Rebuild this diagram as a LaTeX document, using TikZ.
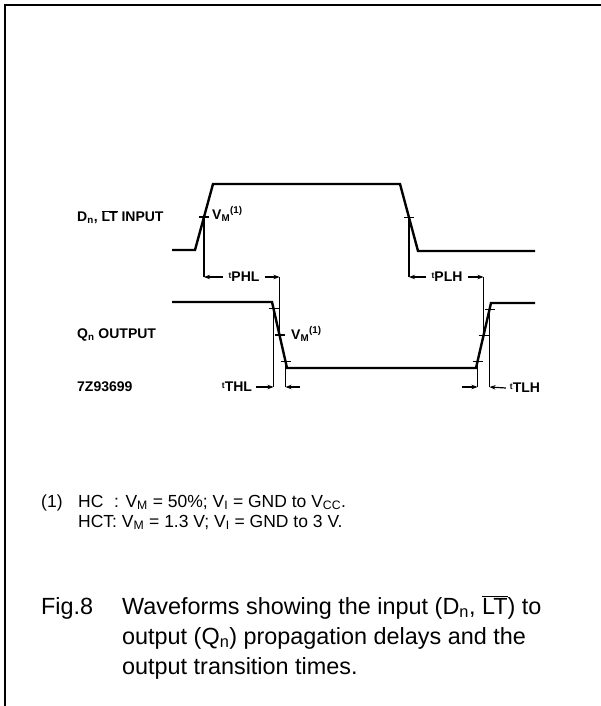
\documentclass[tikz,border=0pt]{standalone}
\usepackage{fontspec}
\setmainfont{Liberation Sans}
\usetikzlibrary{arrows.meta,calc}

\newcommand{\tdel}[1]{\raisebox{3.5pt}{\fontsize{8.5}{8.5}\selectfont t}#1}

\begin{document}
\begin{tikzpicture}[x=1pt,y=-1pt,
    wave/.style={line width=2.4pt,line join=miter},
    guide/.style={line width=1.2pt},
    meas/.style={line width=1.2pt,-{Stealth[length=6pt,width=4.5pt]}},
    sig/.style={font=\bfseries\fontsize{14}{15}\selectfont,inner sep=0pt},
    note/.style={font=\fontsize{17.5}{20}\selectfont,inner sep=0pt,anchor=base west},
    capt/.style={font=\fontsize{23.4}{30}\selectfont,inner sep=0pt,anchor=base west}
]
\useasboundingbox (0,0) rectangle (601,706);
\draw[line width=2pt] (5,706) -- (5,5) -- (601,5);

% input waveform
\coordinate (i0) at (172,250);
\coordinate (i1) at (195,250);
\coordinate (i2) at (213,184);
\coordinate (i3) at (400,184);
\coordinate (i4) at (418,251);
\coordinate (i5) at (535,251);
\draw[wave] (i0) -- (i1) -- (i2) -- (i3) -- (i4) -- (i5);

% output waveform
\coordinate (o0) at (172,302);
\coordinate (o1) at (272,302);
\coordinate (o2) at (287,368);
\coordinate (o3) at (476,368);
\coordinate (o4) at (491,303);
\coordinate (o5) at (535,303);
\draw[wave] (o0) -- (o1) -- (o2) -- (o3) -- (o4) -- (o5);

% measuring points
\coordinate (ir) at ($(i1)!0.5!(i2)$);
\coordinate (if) at ($(i3)!0.5!(i4)$);
\coordinate (of1) at ($(o1)!0.1!(o2)$);
\coordinate (ofm) at ($(o1)!0.5!(o2)$);
\coordinate (of9) at ($(o1)!0.9!(o2)$);
\coordinate (or1) at ($(o3)!0.1!(o4)$);
\coordinate (orm) at ($(o3)!0.5!(o4)$);
\coordinate (or9) at ($(o3)!0.9!(o4)$);
\foreach \p in {ir,if,of1,ofm,of9,or1,orm,or9}
  \draw[guide] ([xshift=-5pt]\p) -- ([xshift=5pt]\p);

\coordinate (tp) at (0,277);
\coordinate (tt) at (0,387);
\draw[guide] (ir) -- (ir |- tp);
\draw[guide] (ofm) -- (ofm |- tp);
\draw[guide] (if) -- (if |- tp);
\draw[guide] (orm) -- (orm |- tp);
\draw[guide] (of1) -- (of1 |- tt);
\draw[guide] (of9) -- (of9 |- tt);
\draw[guide] (or1) -- (or1 |- tt);
\draw[guide] (or9) -- (or9 |- tt);

% labels
\node[sig,anchor=west] (inlab) at (77,217) {D\textsubscript{n}, $\overline{\mbox{LT}}$ INPUT};
\node[sig,anchor=west] (outlab) at (77,335) {Q\textsubscript{n} OUTPUT};
\node[sig,anchor=west] (code) at (77,387) {7Z93699};
\node[sig,anchor=west] (vmin) at (212,214) {V\textsubscript{M}\textsuperscript{(1)}};
\node[sig,anchor=west] (vmout) at (291,334) {V\textsubscript{M}\textsuperscript{(1)}};

\node[sig,inner xsep=5pt] (phl) at (244,277) {\tdel{PHL}};
\draw[meas] (phl.west) -- (ir |- tp);
\draw[meas] (phl.east) -- (ofm |- tp);
\node[sig,inner xsep=5pt] (plh) at (447,277) {\tdel{PLH}};
\draw[meas] (plh.west) -- (if |- tp);
\draw[meas] (plh.east) -- (orm |- tp);

\node[sig,inner xsep=4pt] (thl) at (237,387) {\tdel{THL}};
\draw[meas] (thl.east) -- (of1 |- tt);
\coordinate (thlr) at ($(of9 |- tt)+(14,0)$);
\draw[meas] (thlr) -- (of9 |- tt);
\node[sig,inner xsep=4pt] (tlh) at (525,388) {\tdel{TLH}};
\draw[meas] (tlh.west) -- (or9 |- tt);
\coordinate (tlhl) at ($(or1 |- tt)+(-16,0)$);
\draw[meas] (tlhl) -- (or1 |- tt);

% note and caption
\node[note] (fn) at (41,507) {(1)};
\node[note] (fn1) at (78,507) {HC\hphantom{T}: V\textsubscript{M} = 50\%; V\textsubscript{I} = GND to V\textsubscript{CC}.};
\node[note] (fn2) at (78,527) {HCT: V\textsubscript{M} = 1.3 V; V\textsubscript{I} = GND to 3 V.};

\node[capt] (fig) at (41,614) {Fig.8};
\node[capt] (cap1) at (122,614) {Waveforms showing the input (D\textsubscript{n}, $\overline{\mbox{LT}}$) to};
\node[capt] (cap2) at (122,644) {output (Q\textsubscript{n}) propagation delays and the};
\node[capt] (cap3) at (122,674) {output transition times.};
\end{tikzpicture}
\end{document}
